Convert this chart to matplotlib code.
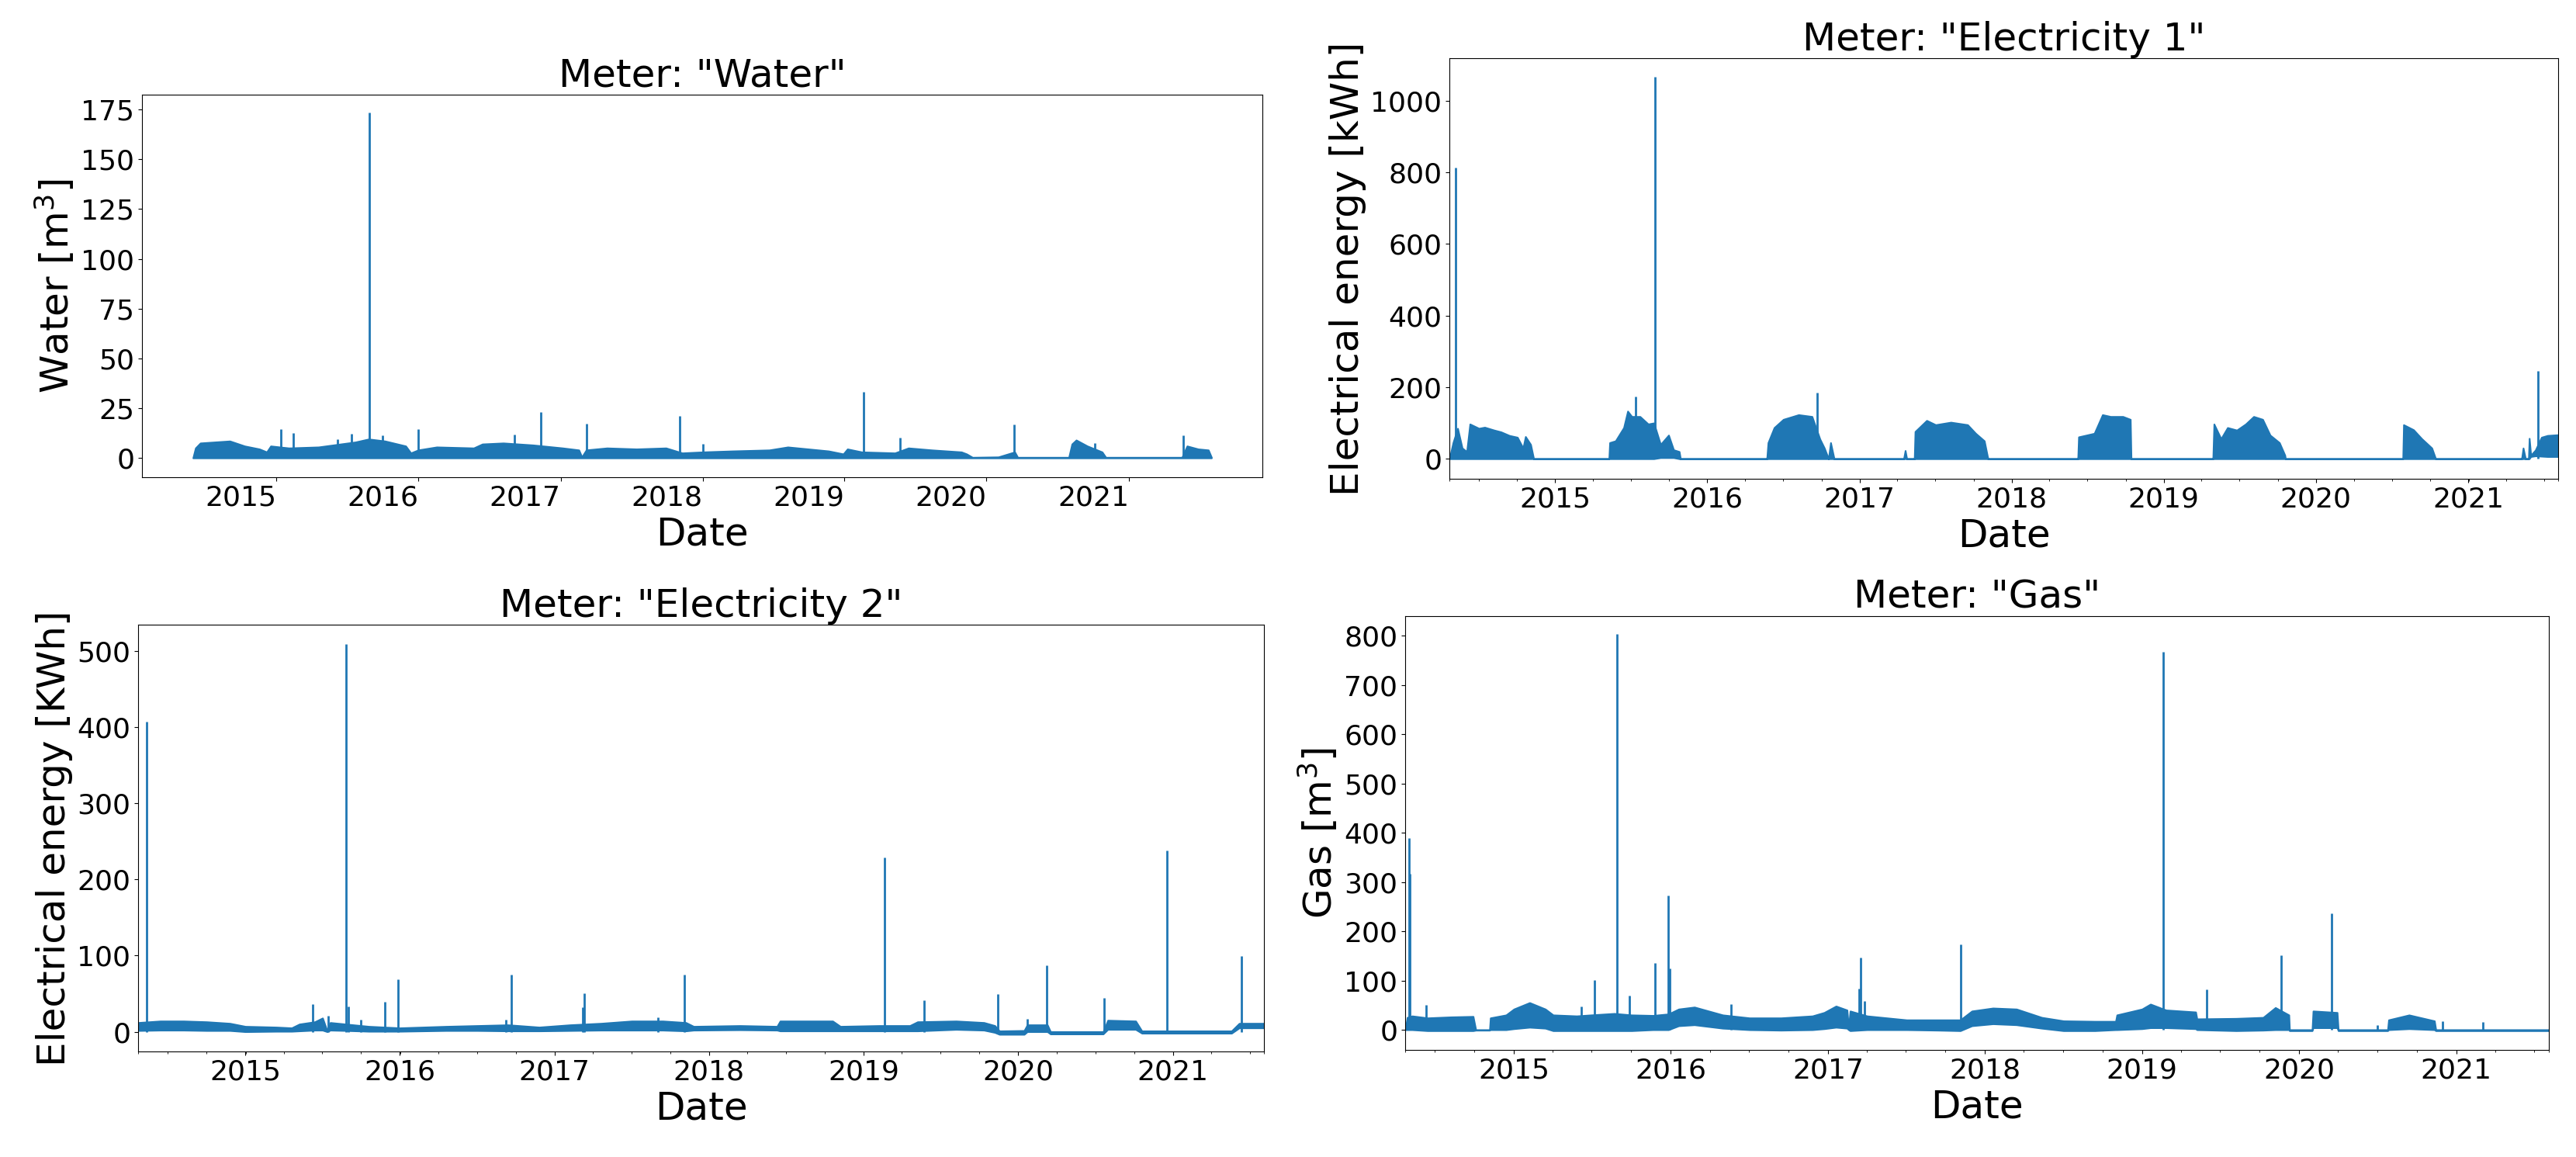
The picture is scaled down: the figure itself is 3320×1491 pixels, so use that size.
import datetime as dt
import numpy as np
import pandas as pd
import matplotlib
matplotlib.use('Agg')
import matplotlib.pyplot as plt
import matplotlib.dates as mdates
import matplotlib.ticker as mticker


# values (time as decimal years)
# Water [m3]
water_t = [2014.412, 2014.43, 2014.464, 2014.568, 2014.672, 2014.776, 2014.88, 2014.932, 2014.96,
           2015.088, 2015.297, 2015.453, 2015.557, 2015.65, 2015.765, 2015.911, 2015.947, 2015.999,
           2016.129, 2016.389, 2016.45, 2016.597, 2016.805, 2017.014, 2017.128, 2017.149, 2017.18,
           2017.326, 2017.534, 2017.742, 2017.856, 2018.002, 2018.21, 2018.47, 2018.6, 2018.887,
           2018.991, 2019.02, 2019.121, 2019.355, 2019.45, 2019.615, 2019.823, 2019.86, 2019.901,
           2020.083, 2020.198, 2020.219, 2020.578, 2020.6, 2020.63, 2020.708, 2020.812, 2020.838,
           2021.374, 2021.41, 2021.488, 2021.56, 2021.582]
water_hi = [0, 5, 7.5, 8, 8.5, 6, 4.5, 3, 6,
            5, 5.5, 7, 8, 9.5, 8.5, 6, 2.5, 4,
            5.5, 5, 7, 7.5, 6.5, 5, 4, 0.5, 4,
            5, 4.5, 5, 2.5, 3, 3.5, 4, 5.5, 3.5,
            2, 4.5, 3, 2.5, 5, 4, 3, 2, 0.3,
            0.5, 3, 0.3, 0.3, 7, 9, 6, 3, 0.3,
            0.3, 6, 4.5, 4, 0.3]
water_spike_t = [2015.03, 2015.12, 2015.432, 2015.531, 2015.657, 2015.749, 2015.999, 2016.675,
                 2016.863, 2017.18, 2017.841, 2018.0, 2019.136, 2019.391, 2020.193, 2020.76, 2021.384]
water_spike_v = [14.3, 12.7, 9.4, 12.3, 173.5, 11.3, 14.3, 11.7,
                 23.1, 17.1, 21, 7, 33.1, 10.1, 16.8, 7.4, 11.3]
water_years = [2015, 2016, 2017, 2018, 2019, 2020, 2021]

# Electricity 1 [kWh]
elec1_t = [2014.306, 2014.33, 2014.36, 2014.39, 2014.42, 2014.441, 2014.5, 2014.538, 2014.6, 2014.645,
           2014.7, 2014.753, 2014.79, 2014.806, 2014.84, 2014.86, 2015.355, 2015.36, 2015.398,
           2015.452, 2015.478, 2015.505, 2015.559, 2015.613, 2015.65, 2015.694, 2015.747, 2015.78,
           2015.817, 2015.825, 2016.392, 2016.4, 2016.44, 2016.5, 2016.6, 2016.688, 2016.74,
           2016.769, 2016.796, 2016.81, 2016.833, 2017.29, 2017.3, 2017.31, 2017.36, 2017.365,
           2017.441, 2017.5, 2017.6, 2017.71, 2017.763, 2017.82, 2017.844, 2018.435, 2018.44,
           2018.543, 2018.597, 2018.65, 2018.731, 2018.78, 2018.785, 2019.323, 2019.33, 2019.376,
           2019.419, 2019.48, 2019.538, 2019.591, 2019.65, 2019.699, 2019.76, 2019.796, 2019.8,
           2020.57, 2020.575, 2020.64, 2020.694, 2020.76, 2020.785, 2021.35, 2021.36, 2021.375,
           2021.395, 2021.4, 2021.41, 2021.44, 2021.48, 2021.52, 2021.59]
elec1_hi = [0, 45, 85, 30, 20, 97, 85, 88, 80, 75,
            65, 60, 30, 62, 40, 0, 0, 45, 50,
            87, 133, 118, 118, 97, 100, 40, 66, 25,
            20, 0, 0, 45, 87, 110, 123, 118, 55,
            30, 0, 45, 0, 0, 23, 0, 0, 76,
            107, 95, 102, 95, 71, 50, 0, 0, 61,
            71, 123, 118, 118, 110, 0, 0, 97, 56,
            87, 80, 97, 118, 110, 66, 45, 10, 0,
            0, 95, 81, 56, 30, 0, 0, 30, 0,
            0, 57, 10, 24, 60, 65, 67]
elec1_lo = [0, 0, 0, 0, 0, 0, 0, 0, 0, 0,
            0, 0, 0, 0, 0, 0, 0, 0, 0,
            0, 0, 0, 0, 0, 0, 3, 3, 3,
            0, 0, 0, 0, 0, 0, 0, 0, 0,
            0, 0, 0, 0, 0, 0, 0, 0, 0,
            0, 0, 0, 0, 0, 0, 0, 0, 0,
            0, 0, 0, 0, 0, 0, 0, 0, 0,
            0, 0, 0, 0, 0, 0, 0, 0, 0,
            0, 0, 0, 0, 0, 0, 0, 0, 0,
            0, 0, 6, 8, 7, 6, 6]
elec1_spike_t = [2014.349, 2015.532, 2015.656, 2016.72, 2021.455]
elec1_spike_v = [813, 174, 1067, 185, 246]

# Electricity 2 [KWh]
elec2_t = [2014.306, 2014.45, 2014.6, 2014.75, 2014.9, 2015.0, 2015.2, 2015.3, 2015.35, 2015.45,
           2015.5, 2015.53, 2015.55, 2015.65, 2015.8, 2016.0, 2016.3, 2016.5, 2016.7, 2016.9,
           2017.1, 2017.3, 2017.5, 2017.7, 2017.85, 2017.9, 2018.2, 2018.44, 2018.46, 2018.8,
           2018.85, 2019.1, 2019.3, 2019.35, 2019.6, 2019.78, 2019.85, 2019.88, 2020.04, 2020.06,
           2020.19, 2020.21, 2020.55, 2020.58, 2020.76, 2020.8, 2021.38, 2021.43, 2021.59]
elec2_hi = [12, 14, 14, 13, 11, 7, 6, 5, 10, 13,
            18, 1, 12, 10, 7, 5, 7, 8, 9, 6,
            9, 11, 14, 14, 12, 7, 8, 7, 14, 14,
            7, 8, 8, 13, 14, 12, 8, 1, 1.5, 9,
            9, 0, 0, 15, 14, 1, 1, 11, 11]
elec2_lo = [1.5, 2, 2, 1.5, 1.5, 0, 0.5, 0.5, 1, 2,
            2, 0, 2, 1.5, 0.5, 0.5, 1.5, 1.5, 1, 1,
            1.5, 2, 2, 2, 1, 2, 2.5, 2, 1, 1,
            1, 1, 1, 1, 3, 2, -1, -3.5, -3.5, 0,
            0, -3, -3, 3, 3, -2, -2, 5, 5]
elec2_spike_t = [2014.36, 2015.435, 2015.536, 2015.653, 2015.668, 2015.748, 2015.902, 2015.987,
                 2016.687, 2016.719, 2017.18, 2017.191, 2017.668, 2017.838, 2019.138, 2019.393,
                 2019.87, 2020.061, 2020.188, 2020.554, 2020.963, 2021.446]
elec2_spike_v = [407, 36, 21, 510, 33, 16, 39, 69,
                 16, 75, 32, 51, 19, 75, 229, 41,
                 49, 17, 87, 44, 238, 99]

# Gas [m3]
gas_t = [2014.307, 2014.32, 2014.351, 2014.45, 2014.6, 2014.74, 2014.757, 2014.845, 2014.85, 2014.95,
         2015.0, 2015.1, 2015.2, 2015.25, 2015.4, 2015.49, 2015.64, 2015.75, 2015.886, 2015.985,
         2016.05, 2016.15, 2016.33, 2016.5, 2016.7, 2016.9, 2016.975, 2017.05, 2017.12, 2017.13,
         2017.14, 2017.248, 2017.5, 2017.7, 2017.842, 2017.916, 2018.05, 2018.2, 2018.361, 2018.5,
         2018.7, 2018.832, 2018.84, 2019.0, 2019.054, 2019.153, 2019.342, 2019.35, 2019.6, 2019.772,
         2019.85, 2019.936, 2019.94, 2020.084, 2020.09, 2020.243, 2020.25, 2020.564, 2020.57, 2020.7,
         2020.861, 2020.87, 2021.59]
gas_hi = [0, 25, 28, 24, 26, 27, 0, 0, 24, 30,
          42, 55, 42, 30, 28, 30, 33, 30, 29, 32,
          42, 46, 30, 24, 24, 28, 35, 48, 40, 5,
          38, 28, 20, 20, 20, 38, 44, 42, 25, 18,
          17, 17, 30, 42, 52, 40, 36, 22, 23, 25,
          45, 30, 0, 0, 38, 35, 0, 0, 20, 30,
          18, 0, 0]
gas_lo = [0, 0, 0, -2, -2, -2, -1, -1, 0, 0,
          2, 5, 3, -2, -2, -2, -2, -2, 0, 0,
          8, 10, 3, 0, -1, 0, 2, 5, 3, 0,
          -2, 0, 0, -1, -2, 8, 12, 10, 3, -2,
          -2, 0, 0, 2, 4, 4, 2, 0, -2, -1,
          0, 0, -2, -2, 4, 4, -2, -2, 0, 2,
          0, -2, -2]
gas_spike_t = [2014.33, 2014.335, 2014.441, 2015.431, 2015.515, 2015.657, 2015.738, 2015.901,
               2015.985, 2015.995, 2016.381, 2017.198, 2017.208, 2017.233, 2017.847, 2019.135,
               2019.411, 2019.886, 2020.208, 2020.5, 2020.911, 2021.168]
gas_spike_v = [390, 317, 50, 47, 101, 803, 70, 136,
               272, 125, 52, 83, 146, 58, 173, 767,
               81.5, 151, 237, 10, 17, 15]


def to_dates(years):
    out = []
    for y in years:
        start = dt.datetime(int(y), 1, 1)
        length = dt.datetime(int(y) + 1, 1, 1) - start
        out.append(start + (y - int(y)) * length)
    return out


W, H = 3320, 1491
fig = plt.figure(figsize=(W / 100, H / 100), dpi=100)


def add_ax(l, r, t, b):
    return fig.add_axes([l / W, 1 - b / H, (r - l) / W, (b - t) / H])


def draw(ax, t, hi, lo, st, sv):
    d = to_dates(t)
    ax.fill_between(d, lo, hi, color='C0', linewidth=1.5)
    ax.vlines(to_dates(st), 0, sv, color='C0', linewidth=2)


def pandas_style(ax, t):
    d = to_dates(t)
    ax.set_xlim(d[0], d[-1])
    ax.xaxis.set_major_locator(mdates.YearLocator())
    ax.xaxis.set_major_formatter(mdates.DateFormatter('%Y'))
    quarters = list(pd.date_range(d[0], d[-1], freq='QS').to_pydatetime())
    ax.xaxis.set_minor_locator(mticker.FixedLocator(mdates.date2num([d[0]] + quarters + [d[-1]])))


lab = 36
tick = 26

# Water
ax1 = add_ax(183, 1627, 122, 615)
water_zero = [0] * len(water_t)
draw(ax1, water_t, water_hi, water_zero, water_spike_t, water_spike_v)
ax1.set_ylim(-9.7, 182.5)
ax1.yaxis.set_major_locator(mticker.MultipleLocator(25))
ax1.set_xticks(to_dates(water_years))
ax1.xaxis.set_major_formatter(mdates.DateFormatter('%Y'))
plt.setp(ax1.get_xticklabels(), ha='right')
ax1.set_title('Meter: "Water"', fontsize=lab)
ax1.set_ylabel('Water [m$^3$]', fontsize=lab)
ax1.set_xlabel('Date', fontsize=lab)

# Electricity 1
ax2 = add_ax(1868, 3297, 75, 617)
draw(ax2, elec1_t, elec1_hi, elec1_lo, elec1_spike_t, elec1_spike_v)
pandas_style(ax2, elec1_t)
ax2.set_ylim(-56, 1119)
ax2.set_title('Meter: "Electricity 1"', fontsize=lab)
ax2.set_ylabel('Electrical energy [kWh]', fontsize=lab)
ax2.set_xlabel('Date', fontsize=lab)

# Electricity 2
ax3 = add_ax(178, 1629, 805, 1355)
draw(ax3, elec2_t, elec2_hi, elec2_lo, elec2_spike_t, elec2_spike_v)
pandas_style(ax3, elec2_t)
ax3.set_ylim(-26, 535)
ax3.set_title('Meter: "Electricity 2"', fontsize=lab)
ax3.set_ylabel('Electrical energy [KWh]', fontsize=lab)
ax3.set_xlabel('Date', fontsize=lab)

# Gas
ax4 = add_ax(1811, 3285, 794, 1353)
draw(ax4, gas_t, gas_hi, gas_lo, gas_spike_t, gas_spike_v)
pandas_style(ax4, gas_t)
ax4.set_ylim(-41, 840)
ax4.yaxis.set_major_locator(mticker.MultipleLocator(100))
ax4.set_title('Meter: "Gas"', fontsize=lab)
ax4.set_ylabel('Gas [m$^3$]', fontsize=lab)
ax4.set_xlabel('Date', fontsize=lab)

for ax in (ax1, ax2, ax3, ax4):
    ax.tick_params(axis='both', which='major', labelsize=tick)

fig.savefig('out.png', dpi=100)
